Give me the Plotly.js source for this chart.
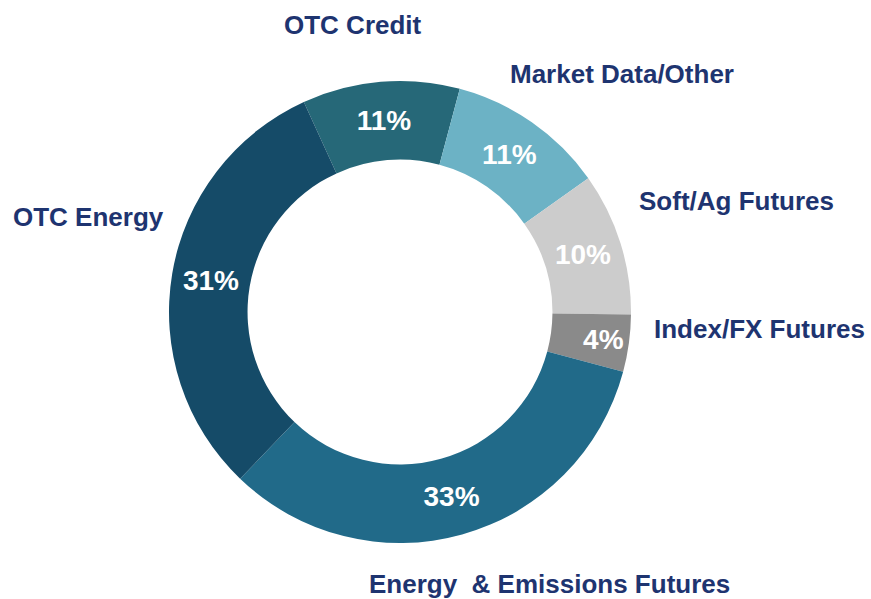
<!DOCTYPE html>
<html>
<head>
<meta charset="utf-8">
<script src="https://cdn.plot.ly/plotly-3.0.1.min.js"></script>
<style>html,body{margin:0;padding:0;background:#fff;}#chart{width:871px;height:599px;}</style>
</head>
<body>
<div id="chart"></div>
<script>
const categories = ["OTC Credit", "Market Data/Other", "Soft/Ag Futures", "Index/FX Futures", "Energy  & Emissions Futures", "OTC Energy"];
const shares = [11, 11, 10, 4, 33, 31];
const sliceColors = ["#266878", "#6cb2c5", "#cccccc", "#8a8a8a", "#216a89", "#154b68"];
const labelColor = "#1e3470";

// label anchor positions (pixels) for the outside category names
const labelPos = [
  [353, 25], [622, 74], [736, 201], [759, 329], [549, 584], [88, 217]
];
const W = 871, H = 599;
const CX = 400, CY = 312, R = 231;

const trace = {
  type: "pie",
  labels: categories,
  values: shares,
  sort: false,
  direction: "clockwise",
  rotation: -24.6,
  hole: 0.66,
  marker: {colors: sliceColors, line: {width: 0}},
  texttemplate: "%{percent:.0%}",
  textposition: "inside",
  insidetextorientation: "horizontal",
  textfont: {family: "Liberation Sans, Arial, sans-serif", size: 28, color: "#ffffff", weight: "bold"},
  hoverinfo: "none",
  showlegend: false,
  domain: {x: [(CX - R) / W, (CX + R) / W], y: [1 - (CY + R) / H, 1 - (CY - R) / H]}
};

const annotations = categories.map((c, i) => ({
  text: c,
  xref: "paper", yref: "paper",
  x: labelPos[i][0] / W, y: 1 - labelPos[i][1] / H,
  xanchor: "center", yanchor: "middle",
  showarrow: false,
  font: {family: "Liberation Sans, Arial, sans-serif", size: 26, color: labelColor, weight: "bold"}
}));

const layout = {
  width: W, height: H,
  margin: {l: 0, r: 0, t: 0, b: 0},
  paper_bgcolor: "#ffffff",
  plot_bgcolor: "#ffffff",
  uniformtext: {mode: "show", minsize: 28},
  annotations: annotations
};

Plotly.newPlot("chart", [trace], layout, {displayModeBar: false, staticPlot: true});
</script>
</body>
</html>
